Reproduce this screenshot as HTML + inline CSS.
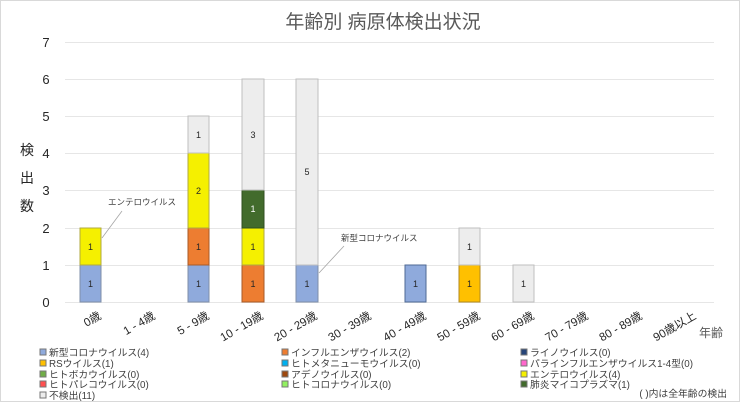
<!DOCTYPE html>
<html><head><meta charset="utf-8"><style>
body{margin:0;background:#fff}
svg{display:block;font-family:"Liberation Sans","Noto Sans CJK JP",sans-serif}
</style></head><body>
<svg width="740" height="402" viewBox="0 0 740 402">
<rect x="0.5" y="0.5" width="739" height="401" fill="#fff" stroke="#d9d9d9"/>
<text x="383" y="28" font-size="19" fill="#595959" text-anchor="middle">年齢別 病原体検出状況</text>
<g stroke="#e6e6e6" stroke-width="1">
<line x1="65" x2="714" y1="42.5" y2="42.5"/><line x1="65" x2="714" y1="79.5" y2="79.5"/>
<line x1="65" x2="714" y1="116.5" y2="116.5"/><line x1="65" x2="714" y1="153.5" y2="153.5"/>
<line x1="65" x2="714" y1="190.5" y2="190.5"/><line x1="65" x2="714" y1="228.5" y2="228.5"/>
<line x1="65" x2="714" y1="265.5" y2="265.5"/><line x1="65" x2="714" y1="302.5" y2="302.5"/>
</g>
<g font-size="13" fill="#262626" text-anchor="middle">
<text x="46" y="47">7</text><text x="46" y="84">6</text><text x="46" y="121">5</text><text x="46" y="158">4</text>
<text x="46" y="195">3</text><text x="46" y="233">2</text><text x="46" y="270">1</text><text x="46" y="307">0</text>
</g>
<g font-size="14" fill="#262626" text-anchor="middle">
<text x="27" y="155">検</text><text x="27" y="183">出</text><text x="27" y="211">数</text>
</g>
<g stroke-width="1" font-size="9" text-anchor="middle">
<rect x="80" y="265" width="21" height="37" fill="#8faadc" stroke="#7f8fa8"/><text x="90.5" y="287" fill="#262626">1</text>
<rect x="80" y="228" width="21" height="37" fill="#f5f000" stroke="#b0aa40"/><text x="90.5" y="250" fill="#262626">1</text>
<rect x="188" y="265" width="21" height="37" fill="#8faadc" stroke="#7f8fa8"/><text x="198.5" y="287" fill="#262626">1</text>
<rect x="188" y="228" width="21" height="37" fill="#ed7d31" stroke="#a85a28"/><text x="198.5" y="250" fill="#262626">1</text>
<rect x="188" y="153" width="21" height="75" fill="#f5f000" stroke="#b0aa40"/><text x="198.5" y="194" fill="#262626">2</text>
<rect x="188" y="116" width="21" height="37" fill="#ededed" stroke="#bfbfbf"/><text x="198.5" y="138" fill="#262626">1</text>
<rect x="242" y="265" width="22" height="37" fill="#ed7d31" stroke="#a85a28"/><text x="253" y="287" fill="#262626">1</text>
<rect x="242" y="228" width="22" height="37" fill="#f5f000" stroke="#b0aa40"/><text x="253" y="250" fill="#262626">1</text>
<rect x="242" y="190" width="22" height="38" fill="#426b2c" stroke="#304f20"/><text x="253" y="212" fill="#fff">1</text>
<rect x="242" y="79" width="22" height="111" fill="#ededed" stroke="#bfbfbf"/><text x="253" y="138" fill="#262626">3</text>
<rect x="296" y="265" width="22" height="37" fill="#8faadc" stroke="#7f8fa8"/><text x="307" y="287" fill="#262626">1</text>
<rect x="296" y="79" width="22" height="186" fill="#ededed" stroke="#bfbfbf"/><text x="307" y="175" fill="#262626">5</text>
<rect x="405" y="265" width="21" height="37" fill="#8faadc" stroke="#4f6a94"/><text x="415.5" y="287" fill="#262626">1</text>
<rect x="459" y="265" width="21" height="37" fill="#ffc000" stroke="#b08a20"/><text x="469.5" y="287" fill="#262626">1</text>
<rect x="459" y="228" width="21" height="37" fill="#ededed" stroke="#bfbfbf"/><text x="469.5" y="250" fill="#262626">1</text>
<rect x="513" y="265" width="21" height="37" fill="#ededed" stroke="#bfbfbf"/><text x="523.5" y="287" fill="#262626">1</text>
</g>
<g stroke="#a6a6a6" stroke-width="0.8">
<line x1="102" y1="238" x2="122" y2="211"/>
<line x1="319" y1="273" x2="344" y2="246"/>
</g>
<g font-size="8.5" fill="#404040">
<text x="108" y="205">エンテロウイルス</text>
<text x="341" y="241">新型コロナウイルス</text>
</g>
<g font-size="11.5" fill="#262626" text-anchor="end">
<text transform="translate(102,318) rotate(-30)">0歳</text>
<text transform="translate(156,318) rotate(-30)">1 - 4歳</text>
<text transform="translate(210,318) rotate(-30)">5 - 9歳</text>
<text transform="translate(264,318) rotate(-30)">10 - 19歳</text>
<text transform="translate(318,318) rotate(-30)">20 - 29歳</text>
<text transform="translate(372,318) rotate(-30)">30 - 39歳</text>
<text transform="translate(427,318) rotate(-30)">40 - 49歳</text>
<text transform="translate(481,318) rotate(-30)">50 - 59歳</text>
<text transform="translate(535,318) rotate(-30)">60 - 69歳</text>
<text transform="translate(589,318) rotate(-30)">70 - 79歳</text>
<text transform="translate(643,318) rotate(-30)">80 - 89歳</text>
<text transform="translate(697,318) rotate(-30)">90歳以上</text>
</g>
<text x="699" y="337" font-size="12" fill="#595959">年齢</text>
<g font-size="9.8" fill="#404040">
<rect x="40" y="349" width="6" height="6" fill="#8faadc" stroke="#777"/><text x="49" y="356">新型コロナウイルス(4)</text>
<rect x="40" y="360" width="6" height="6" fill="#ffc000" stroke="#777"/><text x="49" y="367">RSウイルス(1)</text>
<rect x="40" y="371" width="6" height="6" fill="#70ad47" stroke="#777"/><text x="49" y="378">ヒトボカウイルス(0)</text>
<rect x="40" y="381" width="6" height="6" fill="#ff5050" stroke="#777"/><text x="49" y="388">ヒトパレコウイルス(0)</text>
<rect x="40" y="392" width="6" height="6" fill="#ededed" stroke="#777"/><text x="49" y="399">不検出(11)</text>
<rect x="282" y="349" width="6" height="6" fill="#ed7d31" stroke="#777"/><text x="291" y="356">インフルエンザウイルス(2)</text>
<rect x="282" y="360" width="6" height="6" fill="#00b0f0" stroke="#777"/><text x="291" y="367">ヒトメタニューモウイルス(0)</text>
<rect x="282" y="371" width="6" height="6" fill="#9e480e" stroke="#777"/><text x="291" y="378">アデノウイルス(0)</text>
<rect x="282" y="381" width="6" height="6" fill="#92f060" stroke="#777"/><text x="291" y="388">ヒトコロナウイルス(0)</text>
<rect x="521" y="349" width="6" height="6" fill="#264478" stroke="#777"/><text x="530" y="356">ライノウイルス(0)</text>
<rect x="521" y="360" width="6" height="6" fill="#ff66cc" stroke="#777"/><text x="530" y="367">パラインフルエンザウイルス1-4型(0)</text>
<rect x="521" y="371" width="6" height="6" fill="#f5f000" stroke="#777"/><text x="530" y="378">エンテロウイルス(4)</text>
<rect x="521" y="381" width="6" height="6" fill="#426b2c" stroke="#777"/><text x="530" y="388">肺炎マイコプラズマ(1)</text>
<text x="727" y="397" text-anchor="end">( )内は全年齢の検出</text>
</g>
</svg>
</body></html>
